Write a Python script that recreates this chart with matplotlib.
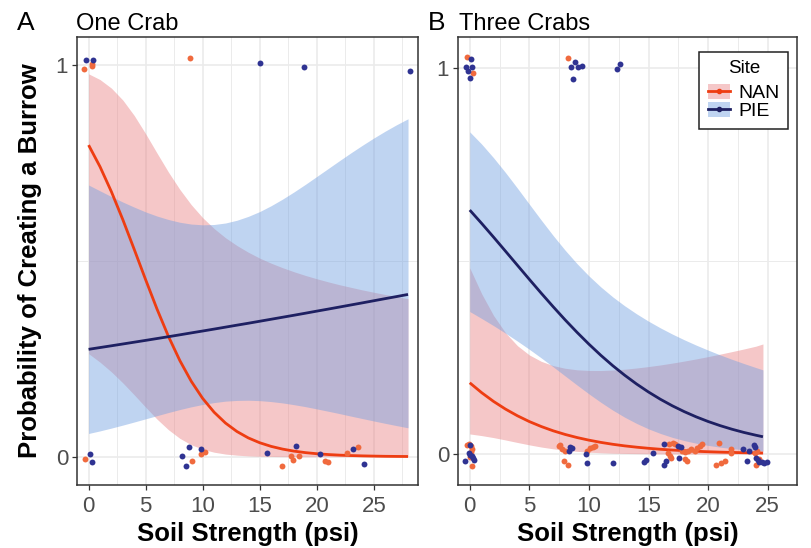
import matplotlib
matplotlib.use("Agg")
import matplotlib.pyplot as plt
from matplotlib.patches import Patch
from matplotlib.lines import Line2D

plt.rcParams['font.family'] = ['Liberation Sans', 'DejaVu Sans']

# ---------------- data ----------------
sites = ["NAN", "PIE"]
panel_titles = ["One Crab", "Three Crabs"]
panel_tags = ["A", "B"]
x_ticks = [0, 5, 10, 15, 20, 25]
y_ticks = [0, 1]

# Panel A: fitted probability and confidence band
xa = list(range(0, 29))
nanA_fit = [0.7951, 0.7400, 0.6761, 0.6049, 0.5290, 0.4517, 0.3766, 0.3070, 0.2453, 0.1925,
            0.1488, 0.1137, 0.0860, 0.0645, 0.0481, 0.0358, 0.0265, 0.0196, 0.0144, 0.0106,
            0.0078, 0.0057, 0.0042, 0.0031, 0.0023, 0.0017, 0.0012, 0.0009, 0.0007]
nanA_hi = [0.9768, 0.9622, 0.9403, 0.9099, 0.8705, 0.8240, 0.7745, 0.7261, 0.6818, 0.6429,
           0.6099, 0.5822, 0.5587, 0.5389, 0.5217, 0.5067, 0.4938, 0.4823, 0.4720, 0.4626,
           0.4541, 0.4462, 0.4388, 0.4322, 0.4256, 0.4197, 0.4139, 0.4085, 0.4032]
nanA_lo = [0.2631, 0.2414, 0.2166, 0.1885, 0.1580, 0.1265, 0.0960, 0.0690, 0.0470, 0.0306,
           0.0192, 0.0117, 0.0069, 0.0041, 0.0023, 0.0013, 0.0008, 0.0004, 0.0003, 0.0001,
           0.0001, 0.0001, 0.0001, 0.0001, 0.0001, 0.0001, 0.0001, 0.0001, 0.0001]
pieA_fit = [0.2741, 0.2786, 0.2831, 0.2877, 0.2923, 0.2969, 0.3016, 0.3063, 0.3111, 0.3160,
            0.3208, 0.3257, 0.3307, 0.3357, 0.3406, 0.3457, 0.3508, 0.3559, 0.3610, 0.3662,
            0.3715, 0.3767, 0.3820, 0.3873, 0.3926, 0.3980, 0.4034, 0.4087, 0.4141]
pieA_hi = [0.6932, 0.6784, 0.6637, 0.6498, 0.6368, 0.6246, 0.6140, 0.6052, 0.5982, 0.5936,
           0.5917, 0.5925, 0.5963, 0.6033, 0.6132, 0.6255, 0.6404, 0.6572, 0.6755, 0.6948,
           0.7150, 0.7352, 0.7555, 0.7754, 0.7946, 0.8131, 0.8306, 0.8470, 0.8622]
pieA_lo = [0.0594, 0.0660, 0.0732, 0.0808, 0.0887, 0.0968, 0.1049, 0.1129, 0.1205, 0.1274,
           0.1334, 0.1382, 0.1419, 0.1437, 0.1442, 0.1432, 0.1408, 0.1374, 0.1329, 0.1279,
           0.1221, 0.1162, 0.1101, 0.1037, 0.0975, 0.0913, 0.0853, 0.0795, 0.0739]

# Panel B
xb = list(range(0, 25)) + [24.6]
nanB_fit = [0.1846, 0.1590, 0.1363, 0.1165, 0.0992, 0.0842, 0.0714, 0.0603, 0.0509, 0.0429,
            0.0361, 0.0303, 0.0254, 0.0213, 0.0179, 0.0150, 0.0125, 0.0105, 0.0088, 0.0073,
            0.0061, 0.0051, 0.0043, 0.0036, 0.0030, 0.0027]
nanB_hi = [0.4820, 0.4151, 0.3587, 0.3141, 0.2807, 0.2567, 0.2401, 0.2291, 0.2222, 0.2182,
           0.2165, 0.2163, 0.2176, 0.2198, 0.2229, 0.2266, 0.2308, 0.2356, 0.2408, 0.2464,
           0.2524, 0.2587, 0.2653, 0.2721, 0.2793, 0.2851]
nanB_lo = [0.0522, 0.0479, 0.0427, 0.0366, 0.0301, 0.0239, 0.0183, 0.0137, 0.0100, 0.0071,
           0.0050, 0.0035, 0.0024, 0.0017, 0.0012, 0.0008, 0.0005, 0.0004, 0.0003, 0.0002,
           0.0001, 0.0001, 0.0001, 0.0001, 0.0001, 0.0001]
pieB_fit = [0.6318, 0.5972, 0.5616, 0.5253, 0.4888, 0.4524, 0.4165, 0.3815, 0.3476, 0.3153,
            0.2846, 0.2557, 0.2289, 0.2042, 0.1814, 0.1607, 0.1419, 0.1250, 0.1099, 0.0964,
            0.0844, 0.0738, 0.0644, 0.0561, 0.0489, 0.0449]
pieB_hi = [0.8342, 0.8025, 0.7671, 0.7289, 0.6885, 0.6470, 0.6058, 0.5658, 0.5280, 0.4931,
           0.4613, 0.4327, 0.4070, 0.3839, 0.3631, 0.3441, 0.3267, 0.3107, 0.2959, 0.2821,
           0.2692, 0.2569, 0.2454, 0.2345, 0.2241, 0.2180]
pieB_lo = [0.3691, 0.3511, 0.3325, 0.3130, 0.2926, 0.2713, 0.2490, 0.2260, 0.2024, 0.1789,
           0.1559, 0.1341, 0.1138, 0.0955, 0.0794, 0.0653, 0.0534, 0.0433, 0.0350, 0.0282,
           0.0226, 0.0180, 0.0143, 0.0114, 0.0090, 0.0079]

# Jittered observations (soil strength, outcome + jitter)
nanA_px = [-0.41, 0.29, 0.30, 8.93, -0.35, 9.07, 9.86, 10.21, 16.95, 17.70, 17.94, 18.41,
           20.69, 21.01, 22.68, 23.62]
nanA_py = [0.989, 1.001, 0.996, 1.018, -0.006, -0.011, 0.007, 0.013, -0.024, 0.003, -0.008,
           0.002, -0.012, -0.013, 0.010, 0.024]
pieA_px = [-0.26, 0.35, 15.01, 18.88, 28.2, 0.15, 0.32, 8.19, 8.58, 8.81, 9.83, 15.65, 18.20,
           20.31, 23.15, 24.15]
pieA_py = [1.011, 1.011, 1.005, 0.993, 0.985, 0.006, -0.014, 0.002, -0.024, 0.024, 0.021,
           0.009, 0.027, 0.006, 0.019, -0.019]

nanB_px = [-0.23, 0.31, 8.25,
           -0.2, -0.1, 0.1, 0.12, 0.05, 0.2, 0.15,
           7.45, 7.6, 7.76, 8.02, 7.89, 8.23,
           9.85, 10.1, 10.3, 10.5,
           16.7, 17.05, 17.2, 16.66, 16.8, 16.9, 18.1, 18.2,
           17.85, 18.05, 18.35, 18.6, 18.9, 19.1, 19.3, 19.45,
           20.9, 21.9, 21.9, 20.65, 21.05, 21.4,
           23.95, 24.1, 24.0, 24.25]
nanB_py = [1.027, 0.987, 1.025,
           0.023, 0.026, 0.021, 0.006, -0.008, -0.030, 0.012,
           0.021, 0.024, 0.014, 0.008, -0.017, -0.028,
           0.008, 0.015, 0.019, 0.022,
           0.026, 0.029, 0.026, 0.002, -0.004, -0.010, -0.013, -0.017,
           0.009, 0.005, 0.008, 0.012, 0.008, 0.016, 0.021, 0.025,
           0.029, 0.012, 0.003, -0.029, -0.024, -0.018,
           0.003, 0.008, -0.029, -0.012]
pieB_px = [0.10, -0.31, -0.11, 0.16, 0.05, 8.87, 8.51, 9.08, 9.42, 8.69, 12.6, 12.37,
           0.0, 0.02, 0.2, -0.36, 0.36, 0.28, -0.05,
           8.43, 8.54, 8.36, 9.78, 9.83, 12.0,
           14.64, 14.75, 15.34, 16.3, 16.46, 16.3,
           17.5, 17.75, 17.55,
           22.9, 23.24, 23.45, 23.86, 23.96, 24.0, 24.15, 24.3, 24.5, 24.7, 24.95]
pieB_py = [1.022, 1.003, 0.992, 1.003, 0.974, 1.015, 1.001, 1.001, 1.004, 0.972, 1.010, 0.997,
           0.024, -0.002, -0.005, -0.019, -0.016, -0.011, 0.004,
           0.019, 0.016, 0.008, 0.001, -0.022, -0.022,
           -0.020, -0.016, 0.002, 0.026, -0.019, -0.028,
           0.022, 0.019, -0.010,
           0.014, -0.019, 0.007, 0.024, 0.019, -0.009, -0.016, -0.021, -0.020, -0.023, -0.020]

# ---------------- style ----------------
W, H = 812, 548
line_col = {"NAN": "#EE3D12", "PIE": "#1E2062"}
pt_col = {"NAN": "#F06A3E", "PIE": "#2F3392"}
fill_col = {"NAN": "#E98385", "PIE": "#73A0E1"}
fill_alpha = 0.45
grey20 = "#333333"

fig = plt.figure(figsize=(W / 100, H / 100), dpi=100)

def px_axes(l, t, r, b):
    return fig.add_axes([l / W, 1 - b / H, (r - l) / W, (b - t) / H])

axA = px_axes(77.3, 37.3, 418.3, 485)
axB = px_axes(458.3, 37.3, 797.5, 485)

def style(ax, xlim, ylim):
    ax.set_xlim(*xlim)
    ax.set_ylim(*ylim)
    ax.set_xticks(x_ticks)
    ax.set_xticklabels([str(t) for t in x_ticks])
    ax.set_xticks([t + 2.5 for t in x_ticks], minor=True)
    ax.set_yticks(y_ticks)
    ax.set_yticklabels([str(t) for t in y_ticks])
    ax.set_yticks([0.5], minor=True)
    ax.grid(which='major', color='#EBEBEB', lw=1.2)
    ax.grid(which='minor', color='#EBEBEB', lw=0.7)
    ax.set_axisbelow(True)
    ax.tick_params(which='minor', length=0)
    ax.tick_params(which='major', length=3.6, width=0.9, color=grey20,
                   labelcolor='#4D4D4D', labelsize=16)
    ax.tick_params(axis='x', pad=4.5)
    ax.tick_params(axis='y', pad=3)
    for s in ax.spines.values():
        s.set_color(grey20)
        s.set_linewidth(1.1)

def draw(ax, x, fits, los, his, pxs, pys):
    for site, lo, hi in zip(sites, los, his):
        ax.fill_between(x, lo, hi, color=fill_col[site], alpha=fill_alpha, lw=0)
    for site, f in zip(sites, fits):
        ax.plot(x, f, color=line_col[site], lw=2.0, solid_capstyle='butt')
    for site, px, py in zip(sites, pxs, pys):
        ax.scatter(px, py, s=18, color=pt_col[site], lw=0, zorder=4)

draw(axA, xa, [nanA_fit, pieA_fit], [nanA_lo, pieA_lo], [nanA_hi, pieA_hi],
     [nanA_px, pieA_px], [nanA_py, pieA_py])
draw(axB, xb, [nanB_fit, pieB_fit], [nanB_lo, pieB_lo], [nanB_hi, pieB_hi],
     [nanB_px, pieB_px], [nanB_py, pieB_py])

style(axA, (-0.99, 28.9), (-0.072, 1.070))
style(axB, (-0.96, 25.33), (-0.080, 1.079))

for ax in (axA, axB):
    ax.set_xlabel('Soil Strength (psi)', fontsize=18.5, fontweight='bold', va='center')
    ax.xaxis.set_label_coords(0.5, (485 - 534) / 448)

fig.text(30 / W, 1 - 261 / H, 'Probability of Creating a Burrow', rotation=90,
         fontsize=18.5, fontweight='bold', ha='center', va='center')

fig.text(17 / W, 1 - 30 / H, panel_tags[0], fontsize=19, va='baseline', ha='left')
fig.text(76 / W, 1 - 30 / H, panel_titles[0], fontsize=17, va='baseline', ha='left')
fig.text(428 / W, 1 - 30 / H, panel_tags[1], fontsize=19, va='baseline', ha='left')
fig.text(459 / W, 1 - 30 / H, panel_titles[1], fontsize=17, va='baseline', ha='left')

handles = []
for site in sites:
    handles.append((Patch(facecolor=fill_col[site], alpha=fill_alpha, lw=0),
                    Line2D([], [], color=line_col[site], lw=2.0, marker='o', ms=3)))
leg = axB.legend(handles, sites, title='Site', loc='upper left',
                 bbox_to_anchor=(699.3 / W, 1 - 51.7 / H), bbox_transform=fig.transFigure,
                 borderaxespad=0, fontsize=14, title_fontsize=13.5, fancybox=False,
                 framealpha=1, edgecolor='#222222', handlelength=1.15, handleheight=0.75,
                 labelspacing=0.0, handletextpad=0.4, borderpad=0.45)
leg.get_frame().set_linewidth(1.1)
leg._legend_box.sep = 5

fig.savefig('out.png', dpi=100)
